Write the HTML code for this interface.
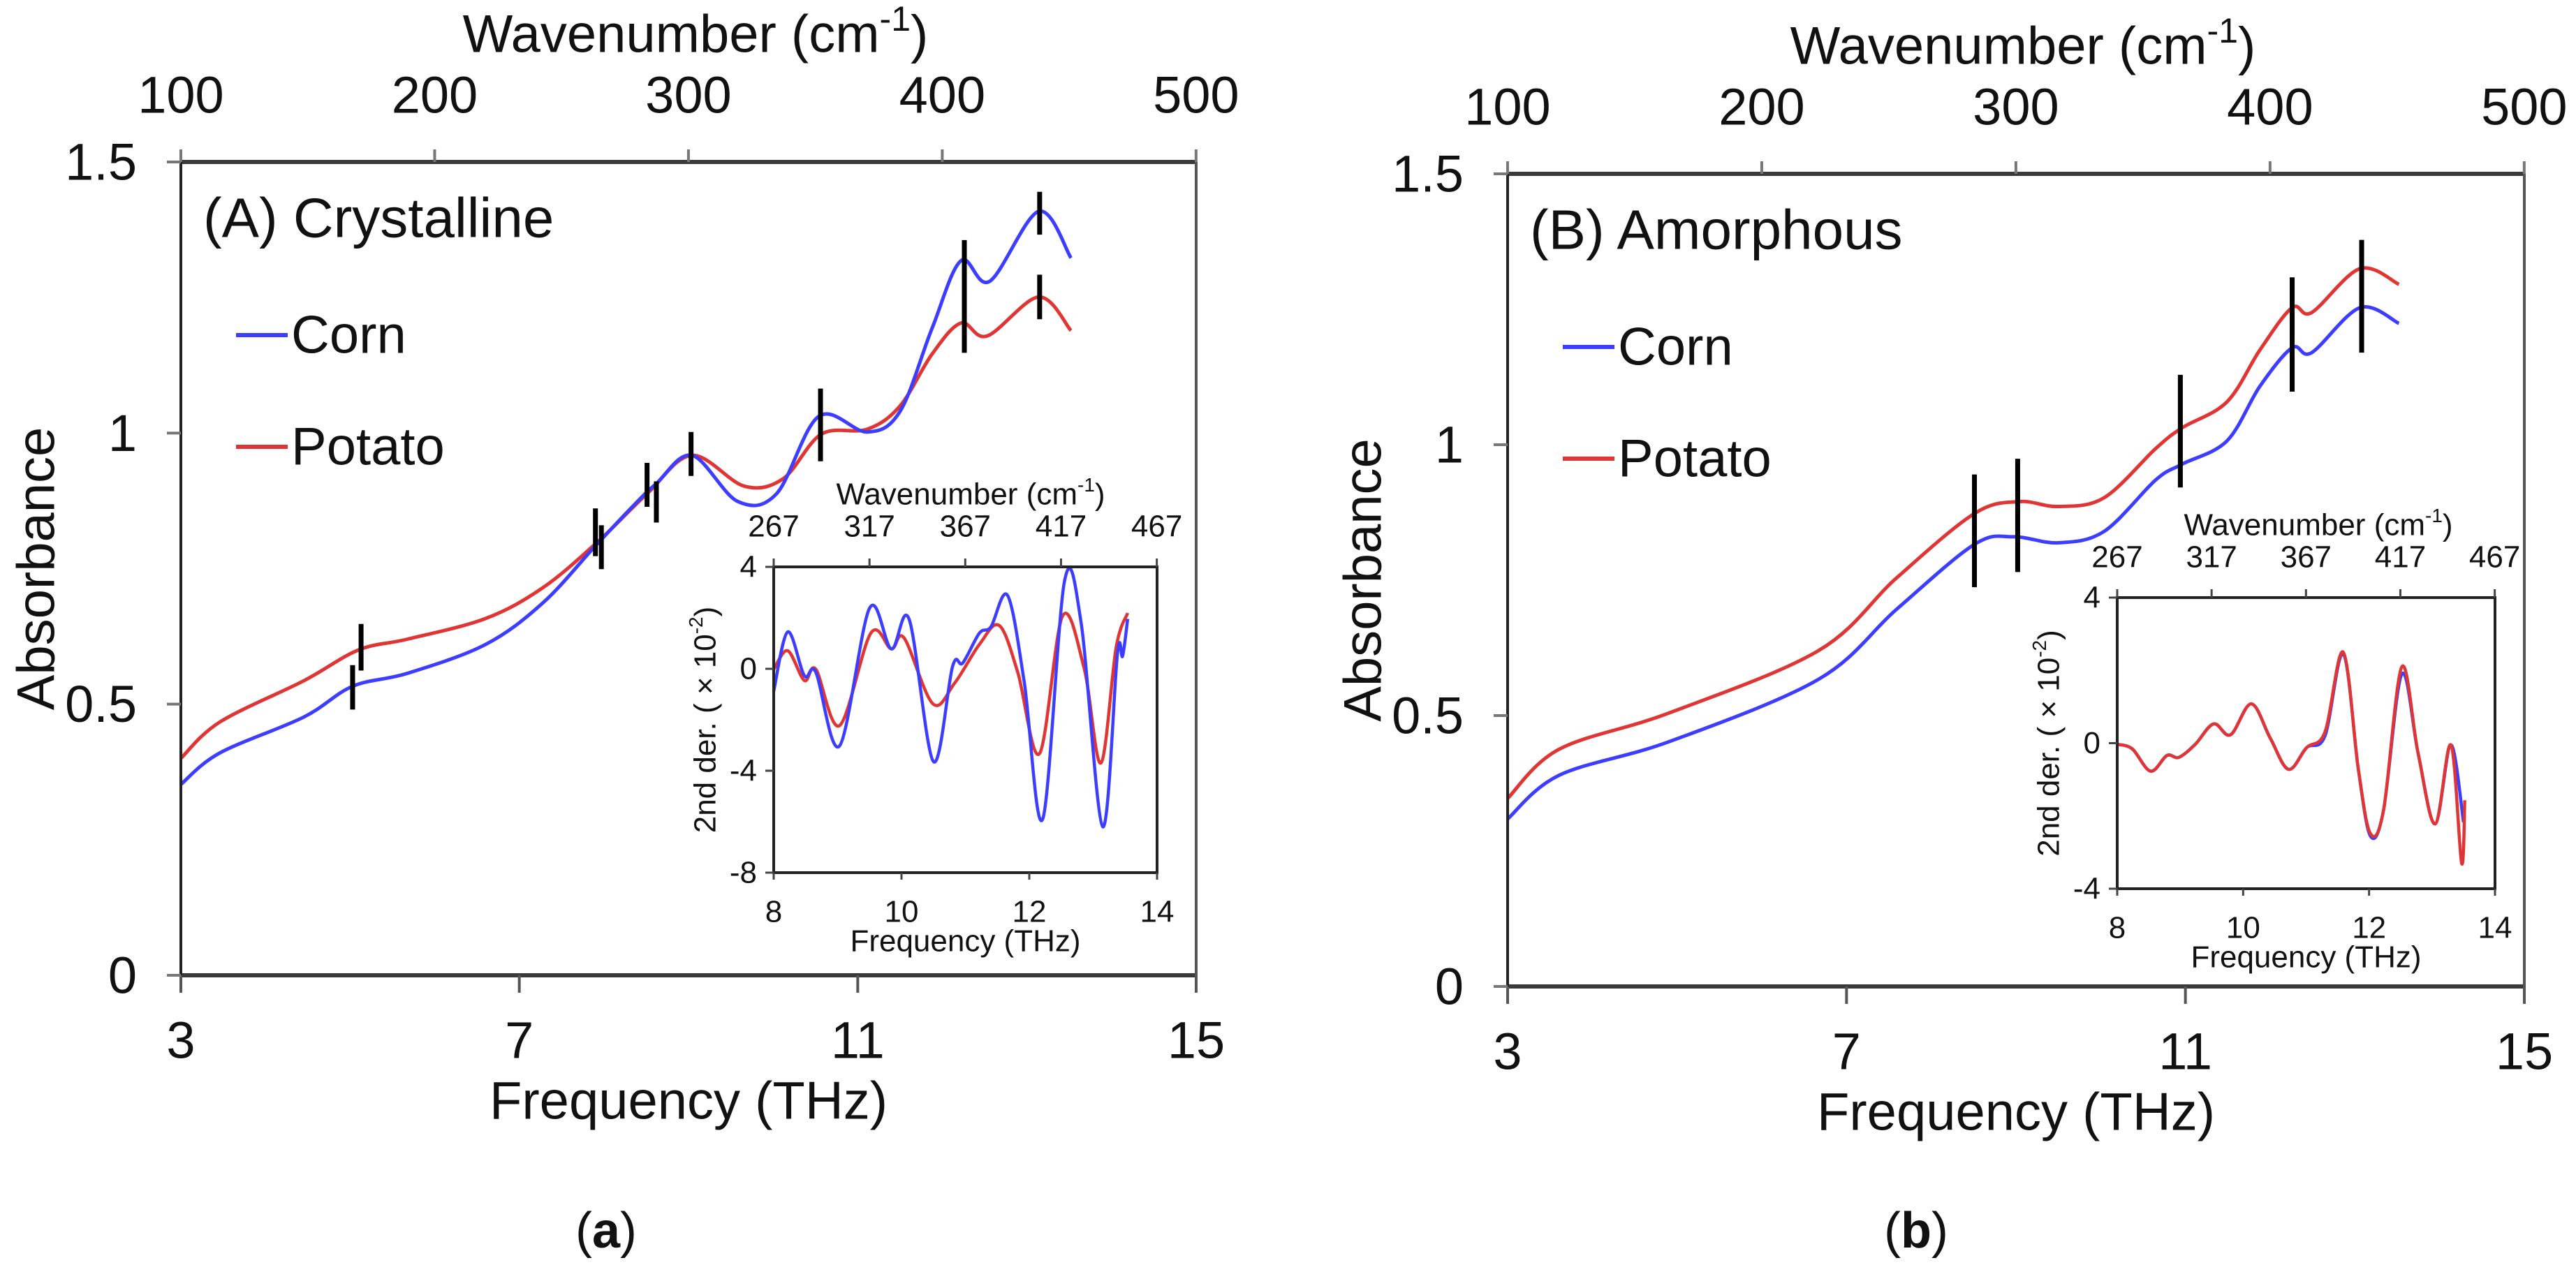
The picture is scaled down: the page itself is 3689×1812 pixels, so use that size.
<!DOCTYPE html>
<html><head><meta charset="utf-8">
<style>
html,body{margin:0;padding:0;background:#fff;}
svg{display:block;}
text{font-family:"Liberation Sans",Arial,sans-serif;fill:#111;}
</style></head>
<body>
<svg id="fig" width="3689" height="1812" viewBox="0 0 3689 1812" xmlns="http://www.w3.org/2000/svg"></svg>
<script>
// ---------- DATA ----------
// Panel A (crystalline) main absorbance
const aCornF = [3,3.46,4.45,5.03,5.68,6.6,7.28,7.9,8.36,8.62,9.04,9.58,10.04,10.54,11.11,11.5,11.88,12.22,12.56,13.14,13.52];
const aCornV = [0.352,0.41,0.476,0.533,0.557,0.61,0.687,0.792,0.868,0.907,0.959,0.874,0.888,1.031,1.002,1.04,1.194,1.318,1.28,1.409,1.323];
const aPotF = [3,3.46,4.45,5.1,5.68,6.6,7.28,7.93,8.51,9.04,9.66,10.12,10.57,11.11,11.5,11.88,12.22,12.53,13.14,13.52];
const aPotV = [0.40,0.467,0.543,0.60,0.62,0.658,0.715,0.80,0.888,0.959,0.902,0.916,0.998,1.007,1.05,1.146,1.203,1.179,1.251,1.189];
// marker bars: frequency, top value, bottom value
const aBarF = [5.13,5.03,7.9,7.97,8.51,8.62,9.03,10.56,12.26,13.15,13.15];
const aBarTop = [0.648,0.572,0.861,0.83,0.945,0.911,1.002,1.082,1.356,1.445,1.292];
const aBarBot = [0.562,0.49,0.773,0.749,0.864,0.835,0.921,0.948,1.148,1.366,1.21];
// Panel B (amorphous) main absorbance
const bCornF = [3,3.61,4.91,6.67,7.59,8.51,8.97,9.5,10.04,10.65,10.96,11.49,11.88,12.26,12.49,13.06,13.52];
const bCornV = [0.309,0.39,0.452,0.567,0.696,0.816,0.83,0.819,0.84,0.935,0.964,1.007,1.108,1.179,1.17,1.253,1.224];
const bPotF = [3,3.61,4.91,6.67,7.59,8.51,9.04,9.5,10.04,10.65,10.96,11.49,11.88,12.26,12.49,13.06,13.52];
const bPotV = [0.347,0.438,0.505,0.62,0.754,0.873,0.895,0.886,0.902,0.993,1.031,1.079,1.175,1.253,1.244,1.325,1.296];
const bBarF = [8.51,9.02,10.94,12.26,13.08];
const bBarTop = [0.945,0.974,1.129,1.309,1.378];
const bBarBot = [0.737,0.765,0.921,1.098,1.17];
// Inset A second derivative
const iaCornF = [8,8.22,8.48,8.66,9.03,9.5,9.84,10.12,10.5,10.8,10.96,11.22,11.4,11.66,11.92,12.21,12.55,12.81,13.15,13.38,13.46,13.54];
const iaCornV = [-0.88,1.45,-0.27,-0.14,-3.03,2.38,0.78,1.94,-3.64,0.1,0.23,1.4,1.65,2.88,-0.5,-5.9,3.42,1.83,-6.2,0.6,0.5,1.96];
const iaPotF = [8,8.22,8.48,8.66,9.03,9.52,9.84,10.04,10.49,10.83,11.22,11.53,11.82,12.16,12.52,12.86,13.12,13.36,13.54];
const iaPotV = [-0.02,0.71,-0.46,-0.02,-2.23,1.4,0.78,1.21,-1.37,-0.57,0.96,1.7,-0.14,-3.33,2.07,0,-3.7,0.84,2.19];
// Inset B second derivative
const ibCornF = [8,8.24,8.53,8.79,8.98,9.24,9.53,9.8,10.13,10.43,10.72,11.01,11.3,11.59,11.83,12.02,12.23,12.52,12.78,13.05,13.3,13.5];
const ibCornV = [-0.03,-0.16,-0.77,-0.34,-0.39,-0.03,0.53,0.23,1.08,0.14,-0.72,-0.12,0.2,2.45,-0.72,-2.55,-1.84,1.9,-0.29,-2.22,-0.05,-2.17];
const ibPotF = [8,8.24,8.53,8.79,8.98,9.24,9.53,9.8,10.13,10.43,10.72,11.01,11.3,11.59,11.83,12.02,12.23,12.52,12.78,13.05,13.3,13.47,13.52];
const ibPotV = [-0.03,-0.16,-0.77,-0.34,-0.39,-0.03,0.53,0.23,1.08,0.14,-0.72,-0.12,0.31,2.5,-0.72,-2.48,-1.84,2.1,-0.29,-2.22,-0.05,-3.3,-1.57];
// Ticks
const freqTicks = [3,7,11,15];
const absTicks = [0,0.5,1,1.5];
const absTickLabels = ["0","0.5","1","1.5"];
const wnTicks = [100,200,300,400,500];
const insetFreqTicks = [8,10,12,14];
const insetWnTicks = [267,317,367,417,467];
const iaYTicks = [4,0,-4,-8];
const ibYTicks = [4,0,-4];

// ---------- HELPERS ----------
const NS = "http://www.w3.org/2000/svg";
const svg = document.getElementById('fig');
function el(tag, attrs, parent){ const e=document.createElementNS(NS,tag); for(const k in attrs) e.setAttribute(k,attrs[k]); (parent||svg).appendChild(e); return e; }
function txt(s, x, y, size, anchor, parent, extra){ const t=el('text',Object.assign({x:x,y:y,'font-size':size,'text-anchor':anchor||'middle','dominant-baseline':'central'},extra||{}),parent); t.textContent=s; return t; }
function lin(d0,d1,r0,r1){ return v => r0+(v-d0)*(r1-r0)/(d1-d0); }
const WN_PER_THZ = 33.356;
function smoothPath(pts){
  let d = 'M'+pts[0][0].toFixed(1)+','+pts[0][1].toFixed(1);
  for(let i=0;i<pts.length-1;i++){
    const p0=pts[i-1]||pts[i], p1=pts[i], p2=pts[i+1], p3=pts[i+2]||p2;
    const c1x=p1[0]+(p2[0]-p0[0])/6, c1y=p1[1]+(p2[1]-p0[1])/6;
    const c2x=p2[0]-(p3[0]-p1[0])/6, c2y=p2[1]-(p3[1]-p1[1])/6;
    d+=' C'+c1x.toFixed(1)+','+c1y.toFixed(1)+' '+c2x.toFixed(1)+','+c2y.toFixed(1)+' '+p2[0].toFixed(1)+','+p2[1].toFixed(1);
  }
  return d;
}
const BLUE = '#3d3dff', RED = '#e03535';

function mainPanel(cfg){
  const g = el('g',{});
  
  
  const X = lin(3,15,cfg.x0,cfg.x1), Y = lin(0,1.5,cfg.yb,cfg.yt);
  // curves
  const pc = el('path',{d:smoothPath(cfg.potF.map((f,i)=>[X(f),Y(cfg.potV[i])])),fill:'none',stroke:RED,'stroke-width':5,'stroke-linejoin':'round'},g);
  
  
  const cc = el('path',{d:smoothPath(cfg.cornF.map((f,i)=>[X(f),Y(cfg.cornV[i])])),fill:'none',stroke:BLUE,'stroke-width':5,'stroke-linejoin':'round'},g);
  
  
  // bars
  cfg.barF.forEach((f,i)=>{
    const b = el('line',{x1:X(f),x2:X(f),y1:Y(cfg.barTop[i]),y2:Y(cfg.barBot[i]),stroke:'#000','stroke-width':7},g);
    
    
  });
  // frame
  el('line',{x1:cfg.x0,x2:cfg.x1,y1:cfg.yt,y2:cfg.yt,stroke:'#3a3a3a','stroke-width':6},g);
  el('line',{x1:cfg.x0,x2:cfg.x1,y1:cfg.yb,y2:cfg.yb,stroke:'#3a3a3a','stroke-width':6},g);
  el('line',{x1:cfg.x0,x2:cfg.x0,y1:cfg.yt,y2:cfg.yb,stroke:'#222','stroke-width':4},g);
  el('line',{x1:cfg.x1,x2:cfg.x1,y1:cfg.yt,y2:cfg.yb,stroke:'#555','stroke-width':4},g);
  // bottom ticks
  freqTicks.forEach(f=>{
    el('line',{x1:X(f),x2:X(f),y1:cfg.yb,y2:cfg.yb+25,stroke:'#555','stroke-width':4},g);
    const t = txt(String(f),X(f),cfg.yb+93,74,'middle',g);
    
    
  });
  // left ticks
  absTicks.forEach((v,i)=>{
    el('line',{x1:cfg.x0-20,x2:cfg.x0,y1:Y(v),y2:Y(v),stroke:'#777','stroke-width':4},g);
    const t = txt(absTickLabels[i],cfg.x0-63,Y(v),74,'end',g);
    
    
  });
  // top ticks (wavenumber)
  wnTicks.forEach(w=>{
    const x = X(w/WN_PER_THZ*1.0006);
    el('line',{x1:x,x2:x,y1:cfg.yt-18,y2:cfg.yt,stroke:'#777','stroke-width':4},g);
    const t = txt(String(w),x,cfg.yt-96,74,'middle',g);
    
    
  });
  const wt = txt('',(cfg.x0+cfg.x1)/2+10,cfg.yt-183,76,'middle',g);
  wt.innerHTML = 'Wavenumber (cm<tspan dy="-22" font-size="50">-1</tspan><tspan dy="22">)</tspan>';
  
  
  const xt = txt('Frequency (THz)',(cfg.x0+cfg.x1)/2,cfg.yb+180,76,'middle',g);
  
  
  const yt = txt('Absorbance',0,0,76,'middle',g,{transform:'translate('+(cfg.x0-207)+','+((cfg.yt+cfg.yb)/2)+') rotate(-90)'});
  
  
  const tt = txt(cfg.title,cfg.x0+32,cfg.yt+80,80,'start',g);
  
  
  // legend
  [['Corn',BLUE,cfg.yt+248],['Potato',RED,cfg.yt+408]].forEach(l=>{
    el('line',{x1:cfg.x0+79,x2:cfg.x0+153,y1:l[2],y2:l[2],stroke:l[1],'stroke-width':6},g);
    const t = txt(l[0],cfg.x0+158,l[2],76,'start',g);
    
    
  });
  const fl = txt(cfg.fig,cfg.figX,1763,72,'middle',svg,{'font-family':'"Liberation Serif",serif'});
  fl.innerHTML = '(<tspan font-weight="bold">'+cfg.fig+'</tspan>)';
  
  
}

function inset(cfg){
  const g = el('g',{});
  
  
  const X = lin(8,14,cfg.x0,cfg.x1), Y = lin(cfg.ymin,cfg.ymax,cfg.yb,cfg.yt);
  const pc = el('path',{d:smoothPath(cfg.potF.map((f,i)=>[X(f),Y(cfg.potV[i])])),fill:'none',stroke:RED,'stroke-width':4.5,'stroke-linejoin':'round'},g);
  const cc = el('path',{d:smoothPath(cfg.cornF.map((f,i)=>[X(f),Y(cfg.cornV[i])])),fill:'none',stroke:BLUE,'stroke-width':4.5,'stroke-linejoin':'round'},g);
  if(cfg.redOnTop){ g.appendChild(pc); }
  
  
  
  
  el('rect',{x:cfg.x0,y:cfg.yt,width:cfg.x1-cfg.x0,height:cfg.yb-cfg.yt,fill:'none',stroke:'#222','stroke-width':4},g);
  insetFreqTicks.forEach(f=>{
    el('line',{x1:X(f),x2:X(f),y1:cfg.yb,y2:cfg.yb+10,stroke:'#444','stroke-width':3},g);
    const t = txt(String(f),X(f),cfg.yb+56,44,'middle',g);
    
    
  });
  cfg.yTicks.forEach(v=>{
    el('line',{x1:cfg.x0-12,x2:cfg.x0,y1:Y(v),y2:Y(v),stroke:'#444','stroke-width':3},g);
    const t = txt(String(v),cfg.x0-24,Y(v),44,'end',g);
    
    
  });
  insetWnTicks.forEach(w=>{
    const x = X(8+(w-267)/WN_PER_THZ);
    el('line',{x1:x,x2:x,y1:cfg.yt-12,y2:cfg.yt,stroke:'#444','stroke-width':3},g);
    const t = txt(String(w),x,cfg.yt-58,44,'middle',g);
    
    
  });
  const wt = txt('',cfg.titleX,cfg.yt-104,44,'middle',g);
  wt.innerHTML = 'Wavenumber (cm<tspan dy="-14" font-size="28">-1</tspan><tspan dy="14">)</tspan>';
  
  
  const xt = txt('Frequency (THz)',(cfg.x0+cfg.x1)/2,cfg.yb+98,44,'middle',g);
  
  
  const yt = txt('',0,0,44,'middle',g,{transform:'translate('+(cfg.x0-98)+','+((cfg.yt+cfg.yb)/2)+') rotate(-90)'});
  yt.innerHTML = '2nd der. ( × 10<tspan dy="-14" font-size="28">-2</tspan><tspan dy="14">)</tspan>';
  
  
}

mainPanel({name:'panel-a-crystalline',x0:259,x1:1713,yt:232,yb:1397,title:'(A) Crystalline',
  cornF:aCornF,cornV:aCornV,potF:aPotF,potV:aPotV,barF:aBarF,barTop:aBarTop,barBot:aBarBot,fig:'a',figX:868});
mainPanel({name:'panel-b-amorphous',x0:2159,x1:3615,yt:249,yb:1413,title:'(B) Amorphous',
  cornF:bCornF,cornV:bCornV,potF:bPotF,potV:bPotV,barF:bBarF,barTop:bBarTop,barBot:bBarBot,fig:'b',figX:2744});
inset({name:'inset-a',x0:1108,x1:1657,yt:812,yb:1250,ymin:-8,ymax:4,yTicks:iaYTicks,titleX:1390,
  cornF:iaCornF,cornV:iaCornV,potF:iaPotF,potV:iaPotV,redOnTop:false});
inset({name:'inset-b',x0:3032,x1:3573,yt:856,yb:1273,ymin:-4,ymax:4,yTicks:ibYTicks,titleX:3320,
  cornF:ibCornF,cornV:ibCornV,potF:ibPotF,potV:ibPotV,redOnTop:true});
</script>
</body></html>
